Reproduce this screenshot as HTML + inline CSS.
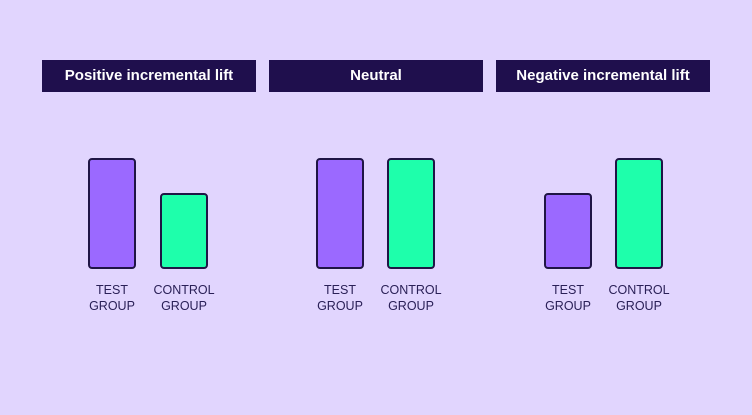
<!DOCTYPE html><html><head><style>
body{margin:0;width:752px;height:415px;background:#e1d5fe;position:relative;overflow:hidden;font-family:"Liberation Sans",sans-serif}
.h{position:absolute;top:60px;width:214px;height:32px;background:#1f0f4d;color:#fff;font-weight:bold;font-size:15px;line-height:32px;text-align:center}
.b{position:absolute;width:44px;border:2px solid #1f1545;border-radius:4px;box-sizing:content-box}
.p{background:#9b69ff}.g{background:#1effab}
.l{position:absolute;top:282px;width:80px;text-align:center;font-size:12.5px;line-height:16px;color:#2a2057}
</style></head><body>
<div class="h" style="left:42px">Positive incremental lift</div>
<div class="h" style="left:269px">Neutral</div>
<div class="h" style="left:496px">Negative incremental lift</div>
<div class="b p" style="left:88px;top:158px;height:107px"></div>
<div class="b g" style="left:160px;top:193px;height:72px"></div>
<div class="b p" style="left:316px;top:158px;height:107px"></div>
<div class="b g" style="left:387px;top:158px;height:107px"></div>
<div class="b p" style="left:544px;top:193px;height:72px"></div>
<div class="b g" style="left:615px;top:158px;height:107px"></div>
<div class="l" style="left:72px">TEST<br>GROUP</div>
<div class="l" style="left:144px">CONTROL<br>GROUP</div>
<div class="l" style="left:300px">TEST<br>GROUP</div>
<div class="l" style="left:371px">CONTROL<br>GROUP</div>
<div class="l" style="left:528px">TEST<br>GROUP</div>
<div class="l" style="left:599px">CONTROL<br>GROUP</div>
</body></html>
